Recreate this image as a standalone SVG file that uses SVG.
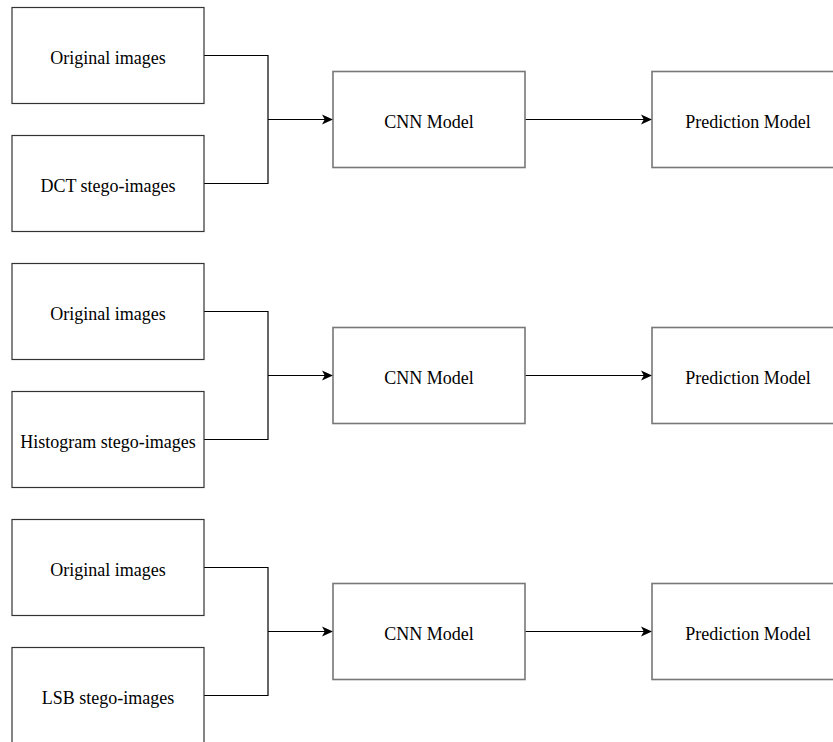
<svg xmlns="http://www.w3.org/2000/svg" width="833" height="742" viewBox="0 0 833 742">
<defs>
<style>
.box{fill:#fff;stroke:#333;stroke-width:1.2}
.box2{fill:#fff;stroke:#777;stroke-width:1.6}
.lbl{font-family:"Liberation Serif","Times New Roman",serif;font-size:18px;fill:#000;text-anchor:middle;dominant-baseline:central}
.conn{fill:none;stroke:#000;stroke-width:1.2}
</style>
<marker id="arr" viewBox="0 0 10 10" refX="10" refY="5" markerWidth="11" markerHeight="11" markerUnits="userSpaceOnUse" orient="auto">
<path d="M0,0.5 L10,5 L0,9.5 L2.5,5 Z" fill="#000"/>
</marker>
</defs>
<rect width="833" height="742" fill="#fff"/>
<g id="connectors">
<path class="conn" d="M204,55.5 H268 V183.5 H204"/>
<path class="conn" d="M268,119.5 H333" marker-end="url(#arr)"/>
<path class="conn" d="M525,119.5 H652" marker-end="url(#arr)"/>
<path class="conn" d="M204,311.5 H268 V439.5 H204"/>
<path class="conn" d="M268,375.5 H333" marker-end="url(#arr)"/>
<path class="conn" d="M525,375.5 H652" marker-end="url(#arr)"/>
<path class="conn" d="M204,567.5 H268 V695.5 H204"/>
<path class="conn" d="M268,631.5 H333" marker-end="url(#arr)"/>
<path class="conn" d="M525,631.5 H652" marker-end="url(#arr)"/>
</g>
<g id="orig1"><rect class="box" x="12" y="7.5" width="192" height="96"/><text class="lbl" x="108" y="57.5">Original images</text></g>
<g id="dct"><rect class="box" x="12" y="135.5" width="192" height="96"/><text class="lbl" x="108" y="185.5">DCT stego-images</text></g>
<g id="cnn1"><rect class="box2" x="333" y="71.5" width="192" height="96"/><text class="lbl" x="429" y="121.5">CNN Model</text></g>
<g id="pred1"><rect class="box2" x="652" y="71.5" width="192" height="96"/><text class="lbl" x="748" y="121.5">Prediction Model</text></g>
<g id="orig2"><rect class="box" x="12" y="263.5" width="192" height="96"/><text class="lbl" x="108" y="313.5">Original images</text></g>
<g id="hist"><rect class="box" x="12" y="391.5" width="192" height="96"/><text class="lbl" x="108" y="441.5">Histogram stego-images</text></g>
<g id="cnn2"><rect class="box2" x="333" y="327.5" width="192" height="96"/><text class="lbl" x="429" y="377.5">CNN Model</text></g>
<g id="pred2"><rect class="box2" x="652" y="327.5" width="192" height="96"/><text class="lbl" x="748" y="377.5">Prediction Model</text></g>
<g id="orig3"><rect class="box" x="12" y="519.5" width="192" height="96"/><text class="lbl" x="108" y="569.5">Original images</text></g>
<g id="lsb"><rect class="box" x="12" y="647.5" width="192" height="96"/><text class="lbl" x="108" y="697.5">LSB stego-images</text></g>
<g id="cnn3"><rect class="box2" x="333" y="583.5" width="192" height="96"/><text class="lbl" x="429" y="633.5">CNN Model</text></g>
<g id="pred3"><rect class="box2" x="652" y="583.5" width="192" height="96"/><text class="lbl" x="748" y="633.5">Prediction Model</text></g>
</svg>
